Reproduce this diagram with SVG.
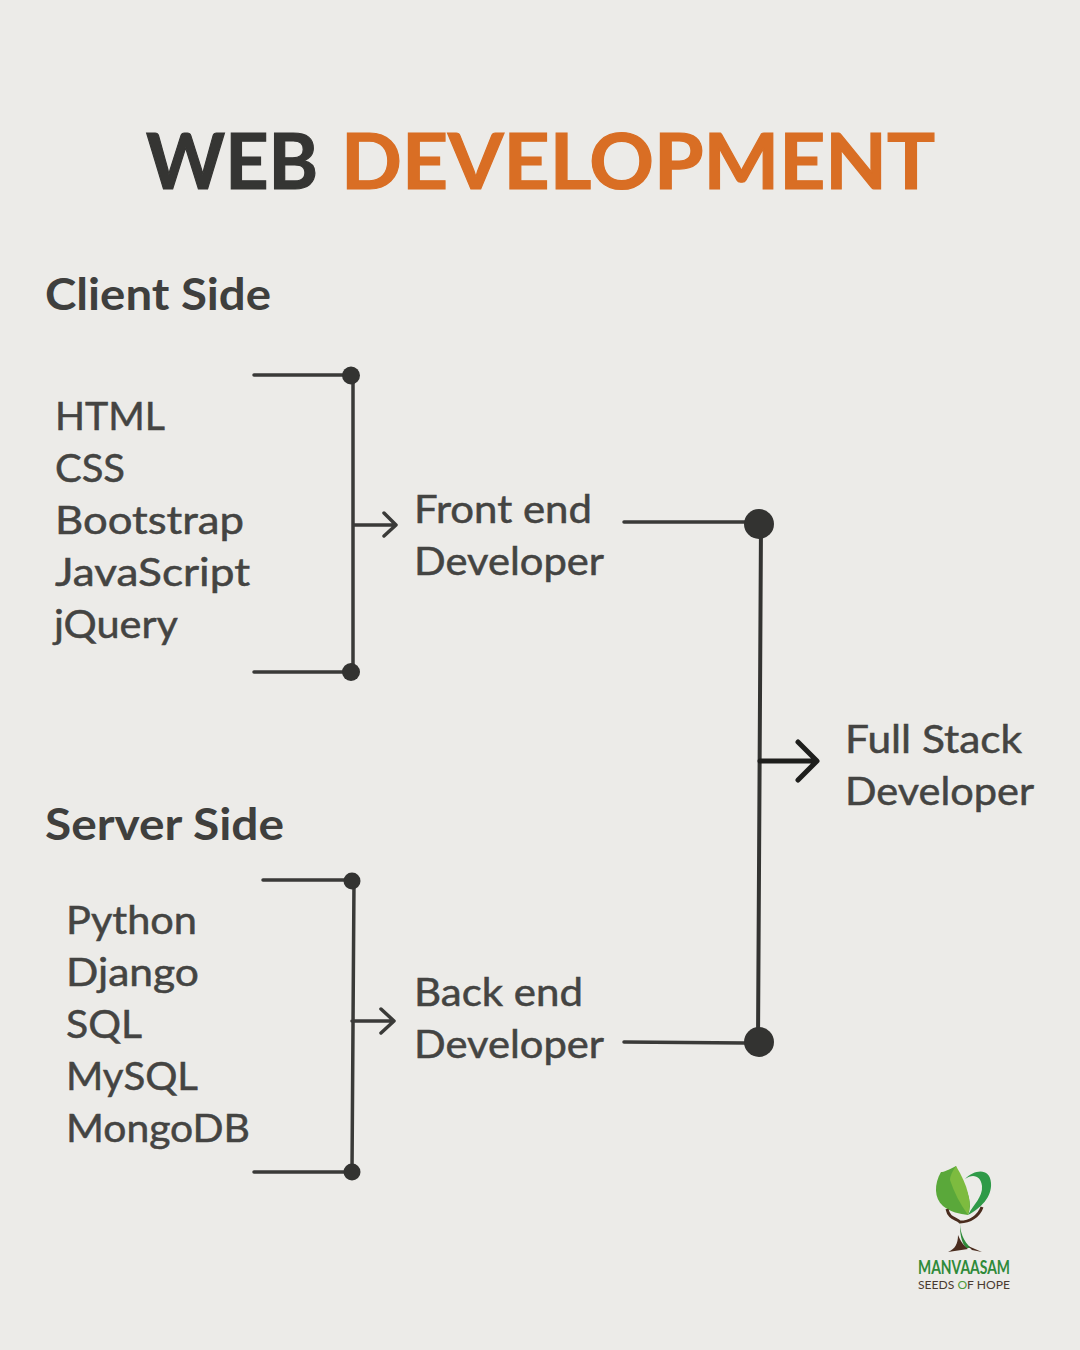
<svg xmlns="http://www.w3.org/2000/svg" width="1080" height="1350" viewBox="0 0 1080 1350">
<style>
text{font-family:"Lato","Open Sans","Liberation Sans",sans-serif}
.t{font-size:38px;fill:#444442;stroke:#444442;stroke-width:.5px}
.h{font-size:43px;font-weight:700;fill:#3f3f3d}
.l{fill:none;stroke:#3a3a38;stroke-width:3.5;stroke-linecap:round;stroke-linejoin:round}
.b{stroke:#1e1e1c;stroke-width:5}
.d{fill:#333331}
</style>
<rect width="1080" height="1350" fill="#ecebe8"/>
<g id="title">
<text x="146" y="189" font-size="76" font-weight="700" fill="#353533" stroke="#353533" stroke-width="1.200" textLength="172" lengthAdjust="spacingAndGlyphs">WEB</text>
<text x="341" y="189" font-size="76" font-weight="700" fill="#d96e24" stroke="#d96e24" stroke-width="1.200" textLength="594" lengthAdjust="spacingAndGlyphs">DEVELOPMENT</text>
</g>
<g id="client-side"><text class="h" x="45" y="310" textLength="226" lengthAdjust="spacingAndGlyphs">Client Side</text></g>
<g id="client-list">
<text class="t" x="55" y="430" textLength="110" lengthAdjust="spacingAndGlyphs">HTML</text>
<text class="t" x="55" y="482" textLength="70" lengthAdjust="spacingAndGlyphs">CSS</text>
<text class="t" x="55" y="534" textLength="189" lengthAdjust="spacingAndGlyphs">Bootstrap</text>
<text class="t" x="55" y="586" textLength="195" lengthAdjust="spacingAndGlyphs">JavaScript</text>
<text class="t" x="54" y="638" textLength="124" lengthAdjust="spacingAndGlyphs">jQuery</text>
</g>
<g id="front-end"><text class="t" x="414" y="523" textLength="178" lengthAdjust="spacingAndGlyphs">Front end</text><text class="t" x="414" y="575" textLength="190" lengthAdjust="spacingAndGlyphs">Developer</text></g>
<g id="server-side"><text class="h" x="45" y="840" textLength="239" lengthAdjust="spacingAndGlyphs">Server Side</text></g>
<g id="server-list">
<text class="t" x="66" y="934" textLength="131" lengthAdjust="spacingAndGlyphs">Python</text>
<text class="t" x="66" y="986" textLength="133" lengthAdjust="spacingAndGlyphs">Django</text>
<text class="t" x="66" y="1038" textLength="76" lengthAdjust="spacingAndGlyphs">SQL</text>
<text class="t" x="66" y="1090" textLength="132" lengthAdjust="spacingAndGlyphs">MySQL</text>
<text class="t" x="66" y="1142" textLength="184" lengthAdjust="spacingAndGlyphs">MongoDB</text>
</g>
<g id="back-end"><text class="t" x="414" y="1006" textLength="169" lengthAdjust="spacingAndGlyphs">Back end</text><text class="t" x="414" y="1058" textLength="190" lengthAdjust="spacingAndGlyphs">Developer</text></g>
<g id="full-stack"><text class="t" x="845" y="753" textLength="177" lengthAdjust="spacingAndGlyphs">Full Stack</text><text class="t" x="845" y="805" textLength="189" lengthAdjust="spacingAndGlyphs">Developer</text></g>
<g id="connectors">
<path class="l" d="M254 375H351M254 672H351M353 376V672M354 525H395M384 513L396 525L384 536"/>
<circle class="d" cx="351" cy="375.500" r="9"/><circle class="d" cx="351" cy="672" r="9"/>
<path class="l" d="M263 880H351M254 1172H351M354 881L352 1172M352 1021H393M381 1009L394 1021L381 1033"/>
<circle class="d" cx="352" cy="881" r="8.500"/><circle class="d" cx="352" cy="1172" r="8.500"/>
<path class="l" d="M624 522H745M624 1042L745 1043"/>
<path class="l" style="stroke:#333331;stroke-width:4" d="M761 524L758 1042"/>
<path class="l b" d="M760 761H816M798 742L817 761L798 780"/>
<circle class="d" cx="759" cy="524" r="15"/><circle class="d" cx="759" cy="1042" r="15"/>
</g>
<g id="logo">
<path d="M956 1166C948 1170 944 1172 941 1172C934 1184 934 1198 943 1206C950 1212 960 1214 968 1215C973 1204 968 1190 960 1180Z" fill="#5aa83a"/>
<path d="M956 1166C952 1172 950 1176 950 1180C954 1192 960 1204 968 1215C972 1202 968 1186 956 1166Z" fill="#7dbb3f"/>
<path d="M965 1179C975 1169 990 1168 991 1183C992 1197 981 1208 968 1215C973 1205 983 1197 982 1186C981 1176 973 1173 965 1179Z" fill="#2f9a48"/>
<path d="M947 1209C949 1219 956 1218 960 1222C970 1222 979 1216 982 1207" fill="none" stroke="#4a2c1e" stroke-width="3"/>
<path d="M960 1218C959 1232 964 1242 971 1248L966 1248C961 1242 960 1232 960 1226Z" fill="#2f8a3a"/>
<path d="M948 1252C955 1249 958 1244 958 1235C961 1242 964 1246 968 1249Z" fill="#4a2c1e"/>
<path d="M968 1246L982 1252L972 1250Z" fill="#4a2c1e"/>
<text x="918" y="1274" font-size="19" font-weight="700" fill="#2f8a3a" textLength="92" lengthAdjust="spacingAndGlyphs">MANVAASAM</text>
<text x="918" y="1288.500" font-size="11.500" fill="#4a3a30" textLength="92" lengthAdjust="spacingAndGlyphs">SEEDS <tspan fill="#4f9a3a">O</tspan>F HOPE</text>
</g>
</svg>
